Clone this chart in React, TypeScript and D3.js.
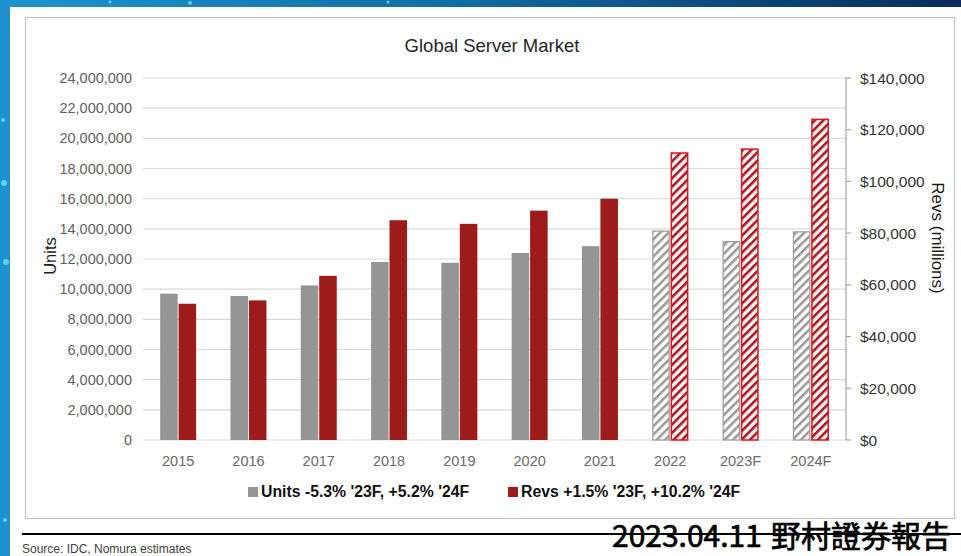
import React from 'react'
import * as d3 from 'd3'

const years = ['2015', '2016', '2017', '2018', '2019', '2020', '2021', '2022', '2023F', '2024F']
const units = [9700000, 9550000, 10250000, 11800000, 11750000, 12400000, 12850000, 13850000, 13150000, 13800000]
const revs = [52700, 54000, 63500, 85000, 83600, 88700, 93300, 111000, 112500, 124000]
const hatched = [false, false, false, false, false, false, false, true, true, true]
const unitTicks = d3.range(0, 24000001, 2000000)
const revTicks = d3.range(0, 140001, 20000)
const legendLabels = ["Units -5.3% '23F, +5.2% '24F", "Revs +1.5% '23F, +10.2% '24F"]

const W = 961
const H = 556
const plot = { left: 143, right: 846, top: 78, bottom: 440 }
const GRAY = '#959595'
const RED = '#9e1b1b'
const FONT = '"Liberation Sans", Arial, sans-serif'

export default function App() {
  const x = d3.scaleBand<string>()
    .domain(years)
    .range([plot.left, plot.right])
    .paddingInner(0.488)
    .paddingOuter(0.244)
  const xs = d3.scaleBand<string>()
    .domain(['units', 'revs'])
    .range([0, x.bandwidth()])
    .paddingInner(0.05)
  const yL = d3.scaleLinear().domain([0, 24000000]).range([plot.bottom, plot.top])
  const yR = d3.scaleLinear().domain([0, 140000]).range([plot.bottom, plot.top])
  const fmtL = d3.format(',')
  const fmtR = (v: number) => '$' + d3.format(',')(v)

  // little bokeh dots on the blue frame
  const dots = [
    { cx: 4, cy: 183, r: 3 }, { cx: 6, cy: 262, r: 3 }, { cx: 3, cy: 120, r: 2 },
    { cx: 190, cy: 3, r: 2 }, { cx: 110, cy: 2, r: 1.5 }, { cx: 388, cy: 2, r: 1.5 },
    { cx: 5, cy: 520, r: 2 },
  ]

  return (
    <svg width={W} height={H} style={{ position: 'absolute', left: 0, top: 0, display: 'block' }}>
      <defs>
        <linearGradient id="frame" x1="0" y1="0" x2="1" y2="0">
          <stop offset="0" stopColor="#1f93cf" />
          <stop offset="0.45" stopColor="#126fa8" />
          <stop offset="1" stopColor="#0a2c5c" />
        </linearGradient>
        <pattern id="hatchGray" patternUnits="userSpaceOnUse" width="6" height="6" patternTransform="rotate(45)">
          <rect width="6" height="6" fill="#fff" />
          <rect width="2.6" height="6" fill="#9a9a9a" />
        </pattern>
        <pattern id="hatchRed" patternUnits="userSpaceOnUse" width="6" height="6" patternTransform="rotate(45)">
          <rect width="6" height="6" fill="#fff" />
          <rect width="2.6" height="6" fill="#b0141c" />
        </pattern>
      </defs>

      {/* frame + page */}
      <rect x={0} y={0} width={W} height={H} fill="url(#frame)" />
      {dots.map((d, i) => <circle key={i} cx={d.cx} cy={d.cy} r={d.r} fill="#5fe0f0" opacity={0.85} />)}
      <rect x={10} y={7} width={W - 10} height={H - 7} fill="#fff" />
      <rect x={25.5} y={17.5} width={929} height={501} fill="#fff" stroke="#c4c4c4" strokeWidth={1.2} />

      <text x={492} y={52} textAnchor="middle" fontFamily={FONT} fontSize={18.5} fill="#262626">Global Server Market</text>

      {/* gridlines + left axis labels */}
      {unitTicks.map(t => (
        <g key={t}>
          <line x1={plot.left} x2={plot.right} y1={yL(t)} y2={yL(t)} stroke="#dadada" strokeWidth={1.2} />
          <text x={132} y={yL(t) + 5} textAnchor="end" fontFamily={FONT} fontSize={14.5} fill="#5f5f5f">{fmtL(t)}</text>
        </g>
      ))}

      {/* right axis */}
      <line x1={plot.right} x2={plot.right} y1={plot.top} y2={plot.bottom} stroke="#a6a6a6" strokeWidth={1.2} />
      {revTicks.map(t => (
        <g key={t}>
          <line x1={plot.right} x2={plot.right + 5} y1={yR(t)} y2={yR(t)} stroke="#a6a6a6" strokeWidth={1.2} />
          <text x={860} y={yR(t) + 5.5} fontFamily={FONT} fontSize={15.5} fill="#333">{fmtR(t)}</text>
        </g>
      ))}

      {/* bars */}
      {years.map((yr, i) => {
        const bx = x(yr)!
        const gx = bx + xs('units')!
        const rx = bx + xs('revs')!
        const bw = xs.bandwidth()
        return (
          <g key={yr}>
            {hatched[i] ? (
              <>
                <rect x={gx + 0.6} y={yL(units[i])} width={bw - 1.2} height={plot.bottom - yL(units[i])}
                  fill="url(#hatchGray)" stroke="#a0a0a0" strokeWidth={1.3} />
                <rect x={rx + 0.6} y={yR(revs[i])} width={bw - 1.2} height={plot.bottom - yR(revs[i])}
                  fill="url(#hatchRed)" stroke="#e0141e" strokeWidth={1.5} />
              </>
            ) : (
              <>
                <rect x={gx} y={yL(units[i])} width={bw} height={plot.bottom - yL(units[i])} fill={GRAY} />
                <rect x={rx} y={yR(revs[i])} width={bw} height={plot.bottom - yR(revs[i])} fill={RED} />
              </>
            )}
            <text x={bx + x.bandwidth() / 2} y={466} textAnchor="middle" fontFamily={FONT} fontSize={14.5} fill="#6a6a6a">{yr}</text>
          </g>
        )
      })}

      {/* axis titles */}
      <text transform="translate(56,256) rotate(-90)" textAnchor="middle" fontFamily={FONT} fontSize={16.5} fill="#1a1a1a">Units</text>
      <text transform="translate(932,238) rotate(90)" textAnchor="middle" fontFamily={FONT} fontSize={17} fill="#1a1a1a">Revs (millions)</text>

      {/* legend */}
      <rect x={248} y={487} width={10} height={10} fill={GRAY} />
      <text x={261} y={497} fontFamily={FONT} fontSize={15.8} fontWeight="bold" fill="#111">{legendLabels[0]}</text>
      <rect x={508} y={487} width={10} height={10} fill={RED} />
      <text x={521} y={497} fontFamily={FONT} fontSize={15.8} fontWeight="bold" fill="#111">{legendLabels[1]}</text>

      {/* footer */}
      <text x={22} y={553} fontFamily={FONT} fontSize={12} fill="#404040">Source: IDC, Nomura estimates</text>
      <text x={612} y={547} fontFamily='"Noto Sans CJK TC", sans-serif' fontSize={30} fontWeight={400}
        fill="#000" stroke="#000" strokeWidth={0.7}>
        <tspan>2023.04.11</tspan><tspan dx={9}>野村證券報告</tspan>
      </text>
      <line x1={22} x2={W} y1={534} y2={534} stroke="#000" strokeWidth={2} />
    </svg>
  )
}
